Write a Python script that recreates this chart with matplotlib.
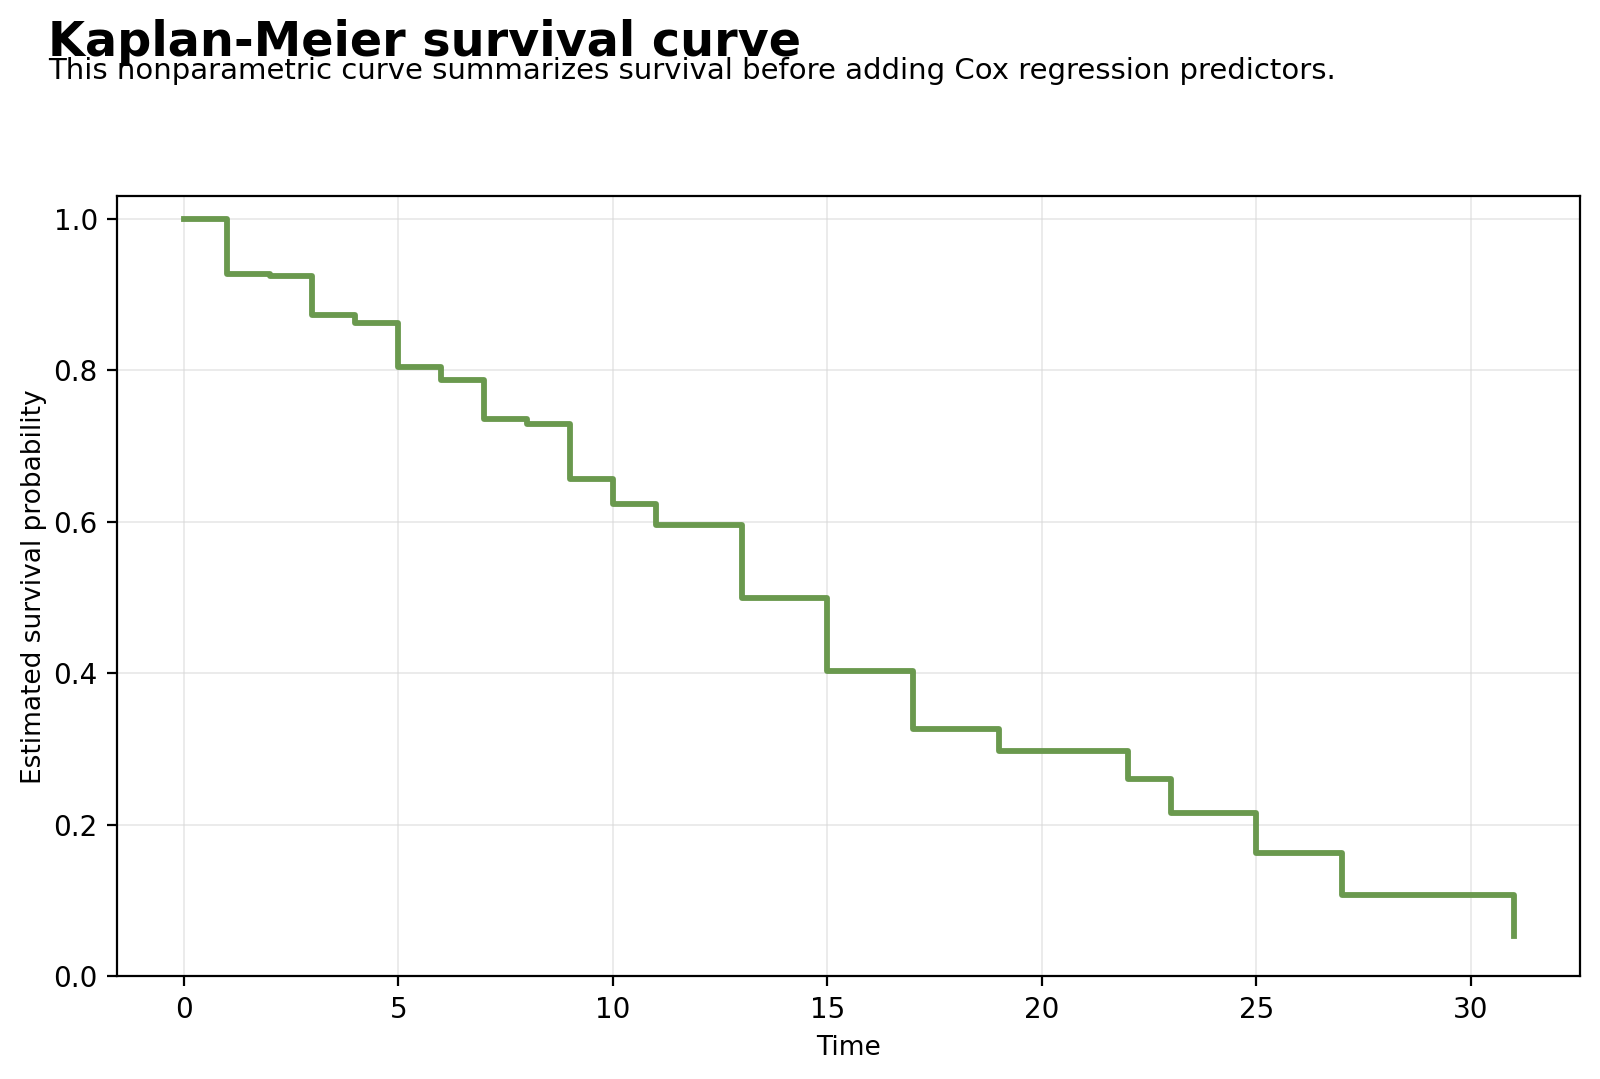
import matplotlib
matplotlib.use("Agg")
import matplotlib.pyplot as plt

# Kaplan-Meier estimate
time = [0, 1, 2, 3, 4, 5, 6, 7, 8, 9, 10, 11, 13, 15, 17, 19, 22, 23, 25, 27, 31]
survival = [1.0, 0.927, 0.925, 0.873, 0.863, 0.804, 0.787, 0.736, 0.729, 0.657,
            0.623, 0.596, 0.500, 0.403, 0.327, 0.297, 0.261, 0.216, 0.163, 0.107, 0.053]

fig = plt.figure(figsize=(8, 5.395), dpi=200)
ax = fig.add_axes([0.0733, 0.095, 0.9144, 0.7234])

ax.step(time, survival, where="post", color="#6a994e", linewidth=2.1)
ax.set_ylim(0, 1.03)
ax.set_xlabel("Time", fontsize=9.5)
ax.set_ylabel("Estimated survival probability", fontsize=9.5, labelpad=2.5)
ax.grid(True, color="#d9d9d9", alpha=0.6, linewidth=0.6)

fig.text(0.030, 0.982, "Kaplan-Meier survival curve", fontsize=17.2, fontweight="bold", va="top")
fig.text(0.030, 0.947, "This nonparametric curve summarizes survival before adding Cox regression predictors.",
         fontsize=10.5, va="top")

fig.savefig("out.png", dpi=200)
